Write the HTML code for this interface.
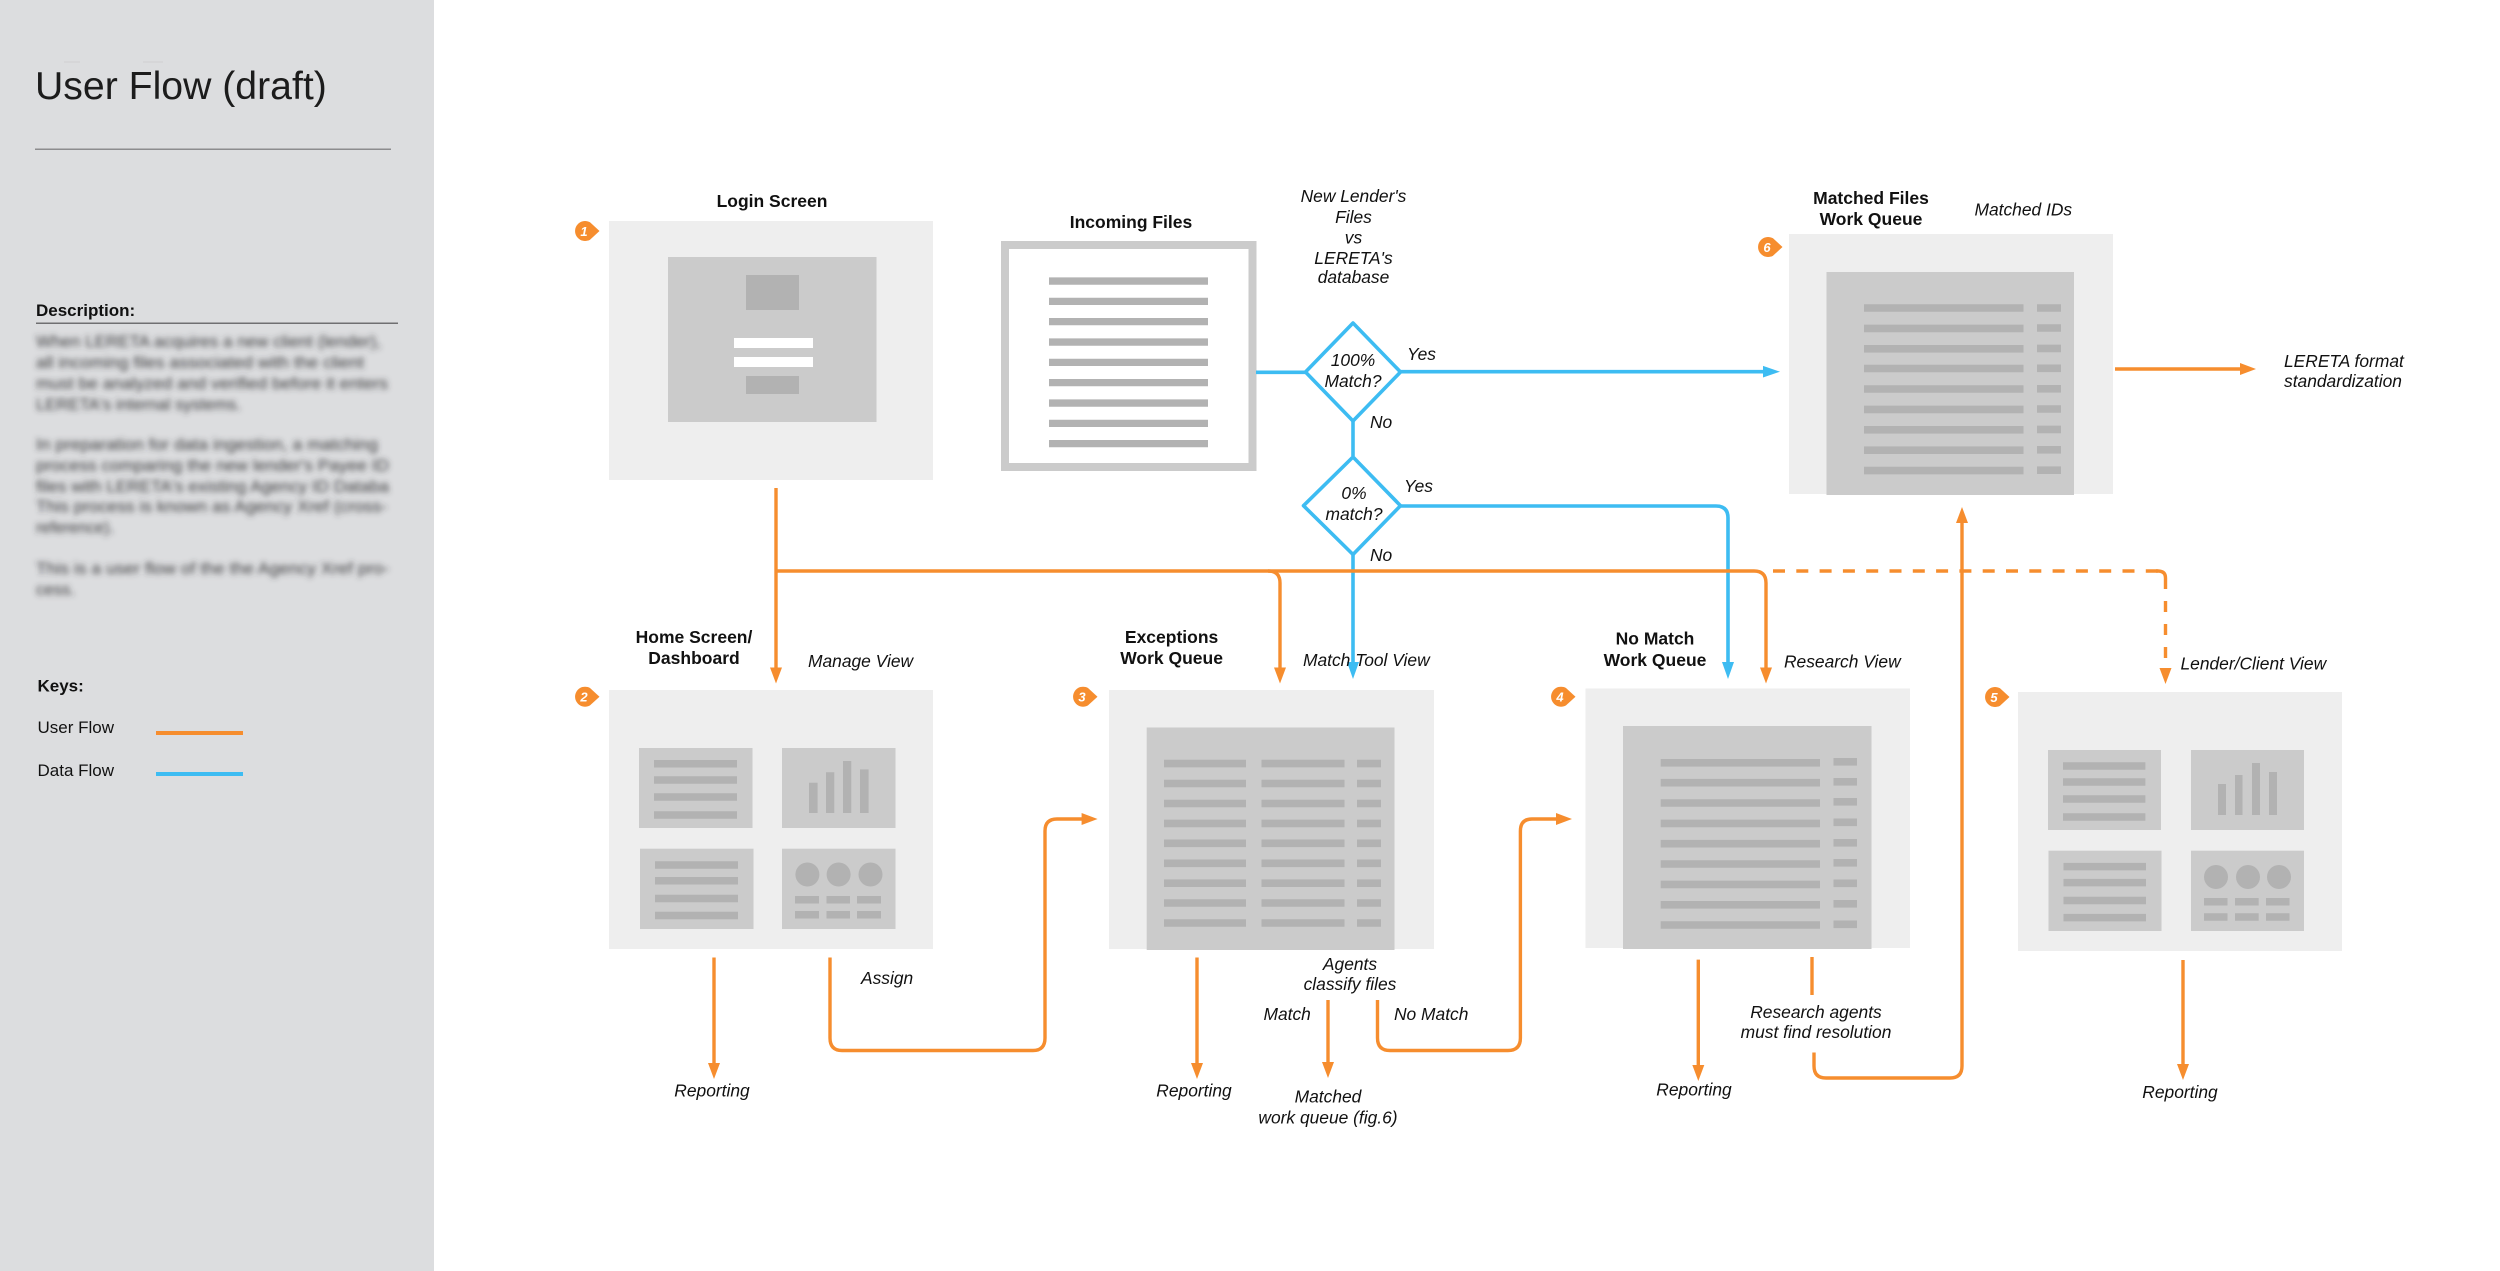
<!DOCTYPE html>
<html lang="en"><head><meta charset="utf-8"><title>User Flow (draft)</title>
<style>
html,body{margin:0;padding:0;background:#fff;width:2500px;height:1271px;overflow:hidden}
svg{display:block;font-family:"Liberation Sans",Arial,sans-serif;fill:#111}
.h{font-weight:700;font-size:17.5px;text-anchor:middle}
.i{font-style:italic;font-size:17.4px}
.c{text-anchor:middle}
.o{fill:none;stroke:#f68d2e;stroke-width:3.4}
.b{fill:none;stroke:#3dbcf2;stroke-width:3.6}
.oa{fill:#f68d2e}.ba{fill:#3dbcf2}
.p{fill:#eee}.q{fill:#cbcbcb}.r{fill:#b2b2b2}
.n{fill:#fff;font-size:13px;font-weight:700;font-style:italic;text-anchor:middle}
</style></head><body>
<svg width="2500" height="1271" viewBox="0 0 2500 1271" xmlns="http://www.w3.org/2000/svg">
<defs><filter id="bl" x="-5%" y="-5%" width="110%" height="110%"><feGaussianBlur stdDeviation="3"/></filter></defs>
<rect width="2500" height="1271" fill="#fff"/>
<!-- sidebar -->
<rect width="434" height="1271" fill="#dcdddf"/>
<rect x="64" y="61.5" width="16" height="1" fill="#cfd0d2"/>
<rect x="143" y="61.5" width="20" height="1" fill="#cfd0d2"/>
<text x="35" y="99" font-size="39.2" style="fill:#1c1c1c">User Flow (draft)</text>
<rect x="35" y="148.5" width="356" height="1.5" fill="#8c8c8e"/>
<text x="36" y="316" font-size="17" font-weight="700">Description:</text>
<rect x="36" y="322.5" width="362" height="1.5" fill="#6f6f71"/>
<g filter="url(#bl)" font-size="17" style="fill:#3a3a3c">
<text x="36" y="347" textLength="345" lengthAdjust="spacingAndGlyphs">When LERETA acquires a new client (lender),</text>
<text x="36" y="368" textLength="328" lengthAdjust="spacingAndGlyphs">all incoming files associated with the client</text>
<text x="36" y="389" textLength="352" lengthAdjust="spacingAndGlyphs">must be analyzed and verified before it enters</text>
<text x="36" y="410" textLength="205" lengthAdjust="spacingAndGlyphs">LERETA's internal systems.</text>
<text x="36" y="450" textLength="342" lengthAdjust="spacingAndGlyphs">In preparation for data ingestion, a matching</text>
<text x="36" y="471" textLength="353" lengthAdjust="spacingAndGlyphs">process comparing the new lender's Payee ID</text>
<text x="36" y="492" textLength="353" lengthAdjust="spacingAndGlyphs">files with LERETA's existing Agency ID Databa</text>
<text x="36" y="512" textLength="351" lengthAdjust="spacingAndGlyphs">This process is known as Agency Xref (cross-</text>
<text x="36" y="533" textLength="78" lengthAdjust="spacingAndGlyphs">reference).</text>
<text x="36" y="574" textLength="353" lengthAdjust="spacingAndGlyphs">This is a user flow of the the Agency Xref pro-</text>
<text x="36" y="595" textLength="39" lengthAdjust="spacingAndGlyphs">cess.</text>
</g>
<text x="37.5" y="691.5" font-size="17" font-weight="700">Keys:</text>
<text x="37.5" y="733" font-size="17">User Flow</text>
<text x="37.5" y="776" font-size="17">Data Flow</text>
<rect x="156" y="731" width="87" height="4" fill="#f68d2e"/>
<rect x="156" y="772" width="87" height="4" fill="#3dbcf2"/>

<!-- panels -->
<rect class="p" x="609" y="221" width="324" height="259"/>
<rect class="p" x="609" y="690" width="324" height="259"/>
<rect class="p" x="1109" y="690" width="325" height="259"/>
<rect class="p" x="1585.5" y="688.5" width="324.5" height="259.5"/>
<rect class="p" x="2018" y="692" width="324" height="259"/>
<rect class="p" x="1789" y="234" width="324" height="260"/>

<!-- login -->
<rect class="q" x="668" y="257" width="208.5" height="165"/>
<rect class="r" x="746" y="275" width="53" height="35"/>
<rect x="734" y="338" width="79" height="10" fill="#fff"/>
<rect x="734" y="357" width="79" height="10" fill="#fff"/>
<rect class="r" x="746" y="376" width="53" height="18"/>

<!-- incoming files -->
<rect x="1005" y="245" width="247.5" height="222" fill="#fff" stroke="#cbcbcb" stroke-width="8"/>
<path class="r" d="M1049 277.4h159v7.3h-159zM1049 297.7h159v7.3h-159zM1049 318h159v7.3h-159zM1049 338.4h159v7.3h-159zM1049 358.7h159v7.3h-159zM1049 379h159v7.3h-159zM1049 399.4h159v7.3h-159zM1049 419.7h159v7.3h-159zM1049 440h159v7.3h-159z"/>

<!-- dashboard 2 -->
<g>
<rect class="q" x="639" y="748" width="113.5" height="80"/><rect class="q" x="782" y="748" width="113.5" height="80"/>
<rect class="q" x="640" y="848.7" width="113.5" height="80.3"/><rect class="q" x="782" y="848.7" width="113.5" height="80.3"/>
<path class="r" d="M654 760h83v7.5h-83zM654 776.3h83v7.5h-83zM654 793.3h83v7.5h-83zM654 811.3h83v7.5h-83zM655 861.2h83v7.5h-83zM655 877h83v7.5h-83zM655 894.8h83v7.5h-83zM655 911.8h83v7.5h-83z"/>
<path class="r" d="M809 782.7h8.6V813H809zM826 772.3h8.3V813H826zM843 761h8.3v52H843zM860 769.4h8.6V813H860z"/>
<circle class="r" cx="807.4" cy="874.5" r="12"/><circle class="r" cx="838.6" cy="874.5" r="12"/><circle class="r" cx="870.5" cy="874.5" r="12"/>
<path class="r" d="M795 896h24v7.5h-24zM826.5 896h23.5v7.5h-23.5zM857 896h24v7.5h-24zM795 911h24v7.5h-24zM826.5 911h23.5v7.5h-23.5zM857 911h24v7.5h-24z"/>
</g>
<!-- dashboard 5 -->
<g>
<rect class="q" x="2048" y="750" width="113" height="80"/><rect class="q" x="2191" y="750" width="113" height="80"/>
<rect class="q" x="2048.5" y="850.7" width="113" height="80.3"/><rect class="q" x="2191" y="850.7" width="113" height="80.3"/>
<path class="r" d="M2063 762.3h82.4v7.5H2063zM2063 778.3h82.4v7.5H2063zM2063 795.3h82.4v7.5H2063zM2063 813.3h82.4v7.5H2063zM2063.5 862.9h82.5v7.5h-82.5zM2063.5 878.9h82.5v7.5h-82.5zM2063.5 896.7h82.5v7.5h-82.5zM2063.5 913.9h82.5v7.5h-82.5z"/>
<path class="r" d="M2218 784h8v31h-8zM2235 775h7.5v40H2235zM2252 763h8v52h-8zM2269 772h8v43h-8z"/>
<circle class="r" cx="2216" cy="877" r="12"/><circle class="r" cx="2248" cy="877" r="12"/><circle class="r" cx="2279" cy="877" r="12"/>
<path class="r" d="M2204 898h23.5v7.5H2204zM2235 898h23.7v7.5H2235zM2266 898h23.5v7.5H2266zM2204 913.3h23.5v7.5H2204zM2235 913.3h23.7v7.5H2235zM2266 913.3h23.5v7.5H2266z"/>
</g>
<!-- queue 3 -->
<rect class="q" x="1146.7" y="727.5" width="247.8" height="222.5"/>
<path class="r" d="M1164 759.8h82v7.6h-82zM1164 779.7h82v7.6h-82zM1164 799.7h82v7.6h-82zM1164 819.6h82v7.6h-82zM1164 839.5h82v7.6h-82zM1164 859.5h82v7.6h-82zM1164 879.4h82v7.6h-82zM1164 899.2h82v7.6h-82zM1164 919.2h82v7.6h-82z"/>
<path class="r" d="M1261.5 759.8h83v7.6h-83zM1261.5 779.7h83v7.6h-83zM1261.5 799.7h83v7.6h-83zM1261.5 819.6h83v7.6h-83zM1261.5 839.5h83v7.6h-83zM1261.5 859.5h83v7.6h-83zM1261.5 879.4h83v7.6h-83zM1261.5 899.2h83v7.6h-83zM1261.5 919.2h83v7.6h-83z"/>
<path class="r" d="M1357 759.8h24v7.6h-24zM1357 779.7h24v7.6h-24zM1357 799.7h24v7.6h-24zM1357 819.6h24v7.6h-24zM1357 839.5h24v7.6h-24zM1357 859.5h24v7.6h-24zM1357 879.4h24v7.6h-24zM1357 899.2h24v7.6h-24zM1357 919.2h24v7.6h-24z"/>
<!-- queue 4 -->
<rect class="q" x="1623" y="726" width="248.5" height="223"/>
<path class="r" d="M1660.7 759h159.3v7.6h-159.3zM1660.7 778.9h159.3v7.6h-159.3zM1660.7 799.2h159.3v7.6h-159.3zM1660.7 819.6h159.3v7.6h-159.3zM1660.7 839.9h159.3v7.6h-159.3zM1660.7 860.2h159.3v7.6h-159.3zM1660.7 880.6h159.3v7.6h-159.3zM1660.7 901h159.3v7.6h-159.3zM1660.7 921.2h159.3v7.6h-159.3z"/>
<path class="r" d="M1833.5 758h23.5v7.6h-23.5zM1833.5 778h23.5v7.6h-23.5zM1833.5 798h23.5v7.6h-23.5zM1833.5 818.5h23.5v7.6h-23.5zM1833.5 839h23.5v7.6h-23.5zM1833.5 859h23.5v7.6h-23.5zM1833.5 879.5h23.5v7.6h-23.5zM1833.5 900h23.5v7.6h-23.5zM1833.5 920.5h23.5v7.6h-23.5z"/>
<!-- queue 6 -->
<rect class="q" x="1826.5" y="272" width="247.5" height="223"/>
<path class="r" d="M1864 304.2h159.5v7.6H1864zM1864 324.6h159.5v7.6H1864zM1864 345h159.5v7.6H1864zM1864 364.7h159.5v7.6H1864zM1864 385.2h159.5v7.6H1864zM1864 405.6h159.5v7.6H1864zM1864 426h159.5v7.6H1864zM1864 446.4h159.5v7.6H1864zM1864 466.8h159.5v7.6H1864z"/>
<path class="r" d="M2037 304.2h24v7.6h-24zM2037 324.2h24v7.6h-24zM2037 344.6h24v7.6h-24zM2037 364.5h24v7.6h-24zM2037 385h24v7.6h-24zM2037 405.2h24v7.6h-24zM2037 425.6h24v7.6h-24zM2037 446h24v7.6h-24zM2037 466.4h24v7.6h-24z"/>

<!-- blue connectors -->
<path class="b" d="M1256 372.3H1306"/>
<path class="b" d="M1401 371.7H1765"/>
<path class="ba" d="M1780 371.7l-17 -5.8v11.6z"/>
<path class="b" stroke-width="3" d="M1353 421V456"/>
<path class="b" d="M1353 555V664"/>
<path class="ba" d="M1353 679l-6 -17h12z"/>
<path class="b" d="M1401 506H1716Q1728 506 1728 518V664"/>
<path class="ba" d="M1728 679l-6 -17h12z"/>
<path class="b" stroke-width="4" d="M1353 323L1400.5 372L1353 421L1305.5 372Z" stroke-linejoin="round" fill="#fff"/>
<path class="b" stroke-width="4" d="M1353 457L1400.5 505.7L1353 554.5L1303.5 505.7Z" stroke-linejoin="round" fill="#fff"/>

<!-- orange connectors -->
<path class="o" d="M776 488V670"/>
<path class="oa" d="M776 683.5l-6 -16h12z"/>
<path class="o" stroke-width="4" d="M776 571H1268Q1280 571 1280 583V670"/>
<path class="oa" d="M1280 683.5l-6 -16h12z"/>
<path class="o" stroke-width="4" d="M1268 571H1754Q1766 571 1766 583V670"/>
<path class="oa" d="M1766 683.5l-6 -16h12z"/>
<path class="o" stroke-width="4" stroke-dasharray="12 11.3" d="M1773 571H2158"/>
<path class="o" stroke-width="3.6" d="M2156 571H2158Q2165.5 571 2165.5 578"/>
<path class="o" stroke-width="3.6" stroke-dasharray="11 12" d="M2165.5 578V668"/>
<path class="oa" d="M2165.5 684l-6 -16h12z"/>
<path class="o" d="M714 957.5V1065"/>
<path class="oa" d="M714 1079l-6 -16h12z"/>
<path class="o" stroke-width="3.8" d="M830 957.5V1038Q830 1050.5 842 1050.5H1033Q1045 1050.5 1045 1038V831Q1045 819 1057 819H1084"/>
<path class="oa" d="M1097.6 819l-16 -6v12z"/>
<path class="o" d="M1197 957.5V1065"/>
<path class="oa" d="M1197 1079l-6 -16h12z"/>
<path class="o" d="M1328 1000V1064"/>
<path class="oa" d="M1328 1078l-6 -16h12z"/>
<path class="o" stroke-width="3.8" d="M1377.5 1000V1038Q1377.5 1050.5 1390 1050.5H1508Q1520.4 1050.5 1520.4 1038V831Q1520.4 819 1532 819H1558"/>
<path class="oa" d="M1572 819l-16 -6v12z"/>
<path class="o" d="M1698.3 959.6V1067"/>
<path class="oa" d="M1698.3 1081l-6 -16h12z"/>
<path class="o" d="M1812 957V995"/>
<path class="o" stroke-width="3.8" d="M1814 1052.5V1066Q1814 1078 1826 1078H1950Q1962 1078 1962 1066V520"/>
<path class="oa" d="M1962 507l-6 16h12z"/>
<path class="o" d="M2183 960V1066"/>
<path class="oa" d="M2183 1080l-6 -16h12z"/>
<path class="o" stroke-width="3.8" d="M2115 369H2242"/>
<path class="oa" d="M2256 369l-16 -6v12z"/>

<!-- badges -->
<path class="oa" transform="translate(585 231)" d="M14.5 0L5 -8.7A10 10 0 1 0 5 8.7Z"/><text class="n" x="584" y="236">1</text>
<path class="oa" transform="translate(585 696.7)" d="M14.5 0L5 -8.7A10 10 0 1 0 5 8.7Z"/><text class="n" x="584" y="701.5">2</text>
<path class="oa" transform="translate(1083 696.7)" d="M14.5 0L5 -8.7A10 10 0 1 0 5 8.7Z"/><text class="n" x="1082" y="701.5">3</text>
<path class="oa" transform="translate(1561 696.7)" d="M14.5 0L5 -8.7A10 10 0 1 0 5 8.7Z"/><text class="n" x="1560" y="701.5">4</text>
<path class="oa" transform="translate(1995 697)" d="M14.5 0L5 -8.7A10 10 0 1 0 5 8.7Z"/><text class="n" x="1994" y="702">5</text>
<path class="oa" transform="translate(1768 247)" d="M14.5 0L5 -8.7A10 10 0 1 0 5 8.7Z"/><text class="n" x="1767" y="252">6</text>

<!-- headings -->
<text class="h" x="772" y="207">Login Screen</text>
<text class="h" x="1131" y="228">Incoming Files</text>
<text class="h" x="1871" y="204">Matched Files</text><text class="h" x="1871" y="225">Work Queue</text>
<text class="h" x="694" y="643">Home Screen/</text><text class="h" x="694" y="664">Dashboard</text>
<text class="h" x="1171.6" y="643">Exceptions</text><text class="h" x="1171.6" y="664">Work Queue</text>
<text class="h" x="1655" y="644.5">No Match</text><text class="h" x="1655" y="666">Work Queue</text>

<!-- italic labels -->
<g class="i">
<text class="c" x="1353.5" y="202">New Lender's</text>
<text class="c" x="1353.5" y="223">Files</text>
<text class="c" x="1353.5" y="243.5">vs</text>
<text class="c" x="1353.5" y="264">LERETA's</text>
<text class="c" x="1353.5" y="283">database</text>
<text class="c" x="1353" y="366">100%</text>
<text class="c" x="1353" y="387">Match?</text>
<text class="c" x="1354" y="499">0%</text>
<text class="c" x="1354" y="520">match?</text>
<text x="1407" y="360">Yes</text>
<text x="1370" y="428">No</text>
<text x="1404" y="492">Yes</text>
<text x="1370" y="561">No</text>
<text x="1974.5" y="215.5">Matched IDs</text>
<text x="2284" y="367">LERETA format</text>
<text x="2284" y="387">standardization</text>
<text x="808" y="667">Manage View</text>
<text x="1303" y="666">Match Tool View</text>
<text x="1784" y="667.5">Research View</text>
<text x="2180.5" y="669.5">Lender/Client View</text>
<text x="861" y="984">Assign</text>
<text class="c" x="712" y="1096.5">Reporting</text>
<text class="c" x="1194" y="1096.5">Reporting</text>
<text class="c" x="1694" y="1095.5">Reporting</text>
<text class="c" x="2180" y="1098">Reporting</text>
<text class="c" x="1350" y="970">Agents</text>
<text class="c" x="1350" y="990">classify files</text>
<text x="1263.5" y="1020">Match</text>
<text x="1394" y="1020">No Match</text>
<text class="c" x="1328" y="1102.5">Matched</text>
<text class="c" x="1328" y="1123.5">work queue (fig.6)</text>
<text class="c" x="1816" y="1018">Research agents</text>
<text class="c" x="1816" y="1038">must find resolution</text>
</g>
</svg>
</body></html>
